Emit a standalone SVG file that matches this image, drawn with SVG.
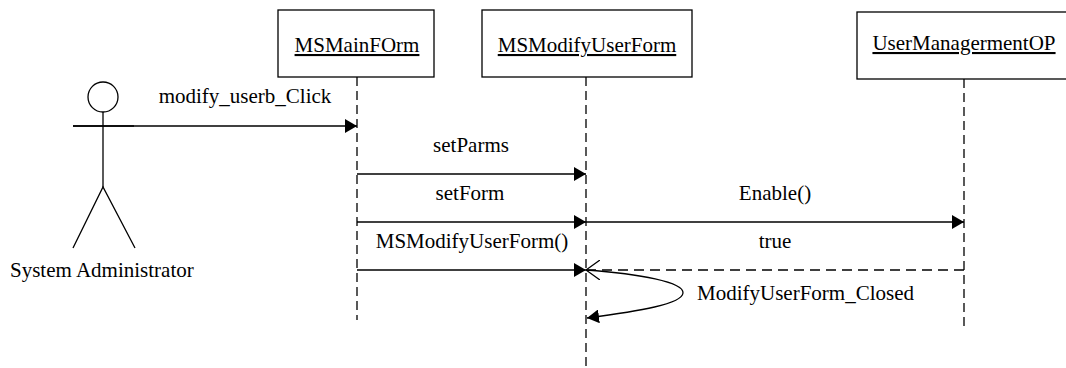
<svg xmlns="http://www.w3.org/2000/svg" width="1066" height="368" viewBox="0 0 1066 368">
<style>
.box{fill:#fff;stroke:#000;stroke-width:1.3}
.life{stroke:#000;stroke-width:1.3;stroke-dasharray:9,5;fill:none}
.msg{stroke:#000;stroke-width:1.3;fill:none}
.ret{stroke:#000;stroke-width:1.3;stroke-dasharray:10,6;fill:none}
</style>
<defs>
<marker id="fill" viewBox="0 0 12 14" refX="12" refY="7" markerWidth="12" markerHeight="14" markerUnits="userSpaceOnUse" orient="auto">
<path d="M0,0 L12,7 L0,14 Z" fill="#000"/>
</marker>
<marker id="open" viewBox="0 0 14 20" refX="14" refY="10" markerWidth="14" markerHeight="20" markerUnits="userSpaceOnUse" orient="auto">
<path d="M0,0 L14,10 L0,20" fill="none" stroke="#000" stroke-width="1.3"/>
</marker>
</defs>
<rect width="1066" height="368" fill="#fff"/>
<g font-family="'Liberation Serif', 'Times New Roman', Times, serif" font-size="21" fill="#000">
<g id="actor">
<circle cx="103" cy="97" r="15" fill="#fff" stroke="#000" stroke-width="1.3"/>
<line x1="103" y1="112" x2="103" y2="187" class="msg"/>
<line x1="73" y1="126" x2="134" y2="126" class="msg"/>
<polyline points="73,248 103,187 135,248" class="msg"/>
<text x="10" y="277">System Administrator</text>
</g>
<g id="MSMainFOrm">
<rect x="278" y="10" width="156" height="67" class="box"/>
<text x="357" y="52" text-anchor="middle" text-decoration="underline">MSMainFOrm</text>
<line x1="357" y1="77" x2="357" y2="320" class="life"/>
</g>
<g id="MSModifyUserForm">
<rect x="482" y="10" width="210" height="67" class="box"/>
<text x="587" y="52" text-anchor="middle" text-decoration="underline">MSModifyUserForm</text>
<line x1="586" y1="77" x2="586" y2="368" class="life"/>
</g>
<g id="UserManagermentOP">
<rect x="857" y="12" width="215" height="67" class="box"/>
<text x="964" y="50" text-anchor="middle" text-decoration="underline">UserManagermentOP</text>
<line x1="964" y1="79" x2="964" y2="328" class="life"/>
</g>
<g id="connectors">
<line x1="73" y1="126" x2="357" y2="126" class="msg" marker-end="url(#fill)"/>
<text x="245" y="103" text-anchor="middle">modify_userb_Click</text>
<line x1="357" y1="174" x2="586" y2="174" class="msg" marker-end="url(#fill)"/>
<text x="471" y="152" text-anchor="middle">setParms</text>
<line x1="357" y1="222" x2="586" y2="222" class="msg" marker-end="url(#fill)"/>
<text x="470" y="200" text-anchor="middle">setForm</text>
<line x1="357" y1="270" x2="586" y2="270" class="msg" marker-end="url(#fill)"/>
<text x="472" y="248" text-anchor="middle">MSModifyUserForm()</text>
<line x1="586" y1="222" x2="964" y2="222" class="msg" marker-end="url(#fill)"/>
<text x="775" y="200" text-anchor="middle">Enable()</text>
<line x1="964" y1="270" x2="586" y2="270" class="ret" marker-end="url(#open)"/>
<text x="775" y="248" text-anchor="middle">true</text>
<path d="M586,270 C640,274 684,282 683,293 C682,304 640,311 587,318" class="msg" marker-end="url(#fill)"/>
<text x="697" y="300">ModifyUserForm_Closed</text>
</g>
</g>
</svg>
